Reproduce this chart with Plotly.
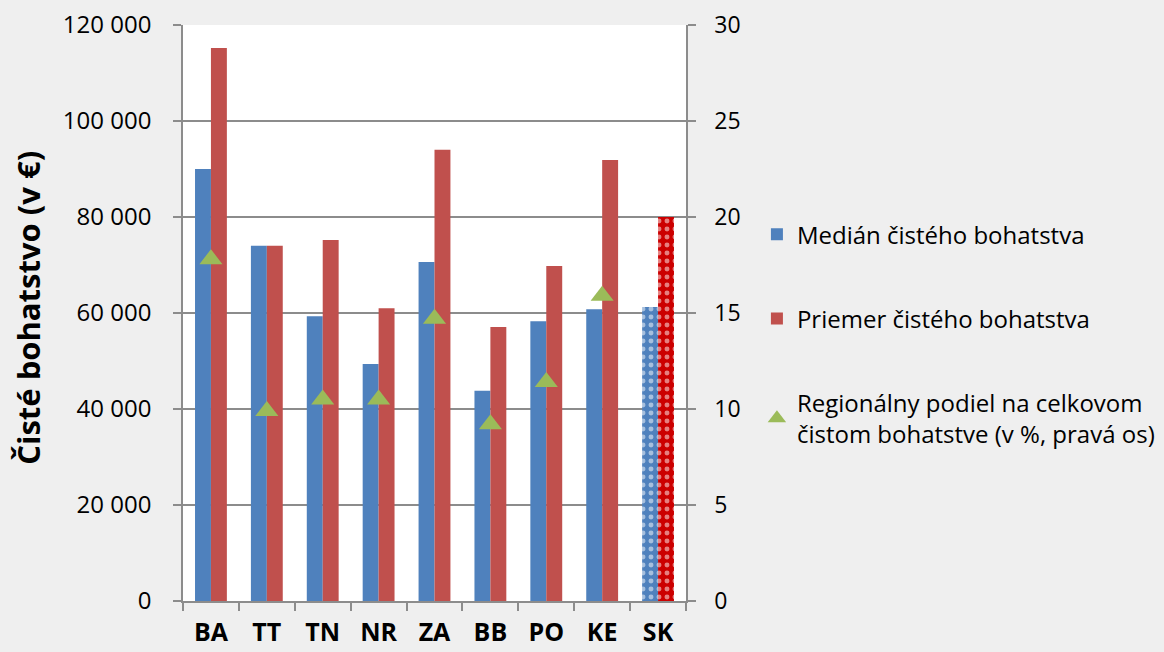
import plotly.graph_objects as go

regions = ["BA", "TT", "TN", "NR", "ZA", "BB", "PO", "KE"]
median = [90000, 74000, 59300, 49400, 70600, 43800, 58300, 60800]
mean = [115200, 74000, 75200, 61000, 94000, 57100, 69800, 91900]
share = [17.8, 9.9, 10.5, 10.5, 14.7, 9.2, 11.4, 15.9]
sk_label = ["SK"]
sk_median = [61250]
sk_mean = [80000]

categories = regions + sk_label

FONT = "Open Sans, sans-serif"
BLUE = "#4F81BD"
RED = "#C0504D"
SKRED = "#CC0000"
GREEN = "#9BBB59"
GRID = "#8C8C8C"
BG = "#EFEFEF"

fig = go.Figure()
fig.add_trace(go.Bar(x=regions, y=median, name="Medián čistého bohatstva",
                     marker=dict(color=BLUE, line=dict(width=0)),
                     offsetgroup="a", legendgroup="a"))
fig.add_trace(go.Bar(x=regions, y=mean, name="Priemer čistého bohatstva",
                     marker=dict(color=RED, line=dict(width=0)),
                     offsetgroup="b", legendgroup="b"))
fig.add_trace(go.Bar(x=sk_label, y=sk_median, showlegend=False,
                     marker=dict(color=BLUE, line=dict(width=0),
                                 pattern=dict(shape=".", fgcolor="white", bgcolor=BLUE,
                                              size=8, solidity=0.3)),
                     offsetgroup="a", legendgroup="a"))
fig.add_trace(go.Bar(x=sk_label, y=sk_mean, showlegend=False,
                     marker=dict(color=SKRED, line=dict(width=0),
                                 pattern=dict(shape=".", fgcolor="white", bgcolor=SKRED,
                                              size=8, solidity=0.3)),
                     offsetgroup="b", legendgroup="b"))
fig.add_trace(go.Scatter(x=regions, y=share, mode="markers", yaxis="y2",
                         name="Regionálny podiel na celkovom<br>čistom bohatstve (v %, pravá os)",
                         marker=dict(symbol="triangle-up", size=20, color=GREEN),
                         legendgroup="c"))

fig.update_layout(
    width=1164, height=652,
    margin=dict(l=183, r=478, t=25, b=51, autoexpand=False),
    paper_bgcolor=BG, plot_bgcolor="white",
    barmode="group", bargap=0.43, bargroupgap=0,
    font=dict(family=FONT, size=24, color="black"),
    showlegend=True,
    legend=dict(x=1.141, y=0.675, xanchor="left", yanchor="top",
                bgcolor="rgba(0,0,0,0)", font=dict(size=24),
                tracegroupgap=50, traceorder="grouped", itemwidth=30),
    xaxis=dict(categoryorder="array", categoryarray=categories,
               range=[-0.5, len(categories) - 0.5],
               showline=True, linecolor=GRID, linewidth=1.5,
               ticks="outside", tickson="boundaries", ticklen=8, tickcolor=GRID, tickwidth=1.5,
               tickfont=dict(size=25, family=FONT, weight="bold"),
               ticklabelstandoff=8, showgrid=False),
    yaxis=dict(range=[0, 120000], dtick=20000, tickformat=",d",
               showline=True, linecolor=GRID, linewidth=1.5,
               ticks="outside", ticklen=8, tickcolor=GRID, tickwidth=1.5,
               showgrid=True, gridcolor=GRID, gridwidth=1.5,
               zeroline=False, ticklabelstandoff=17,
               tickfont=dict(size=24)),
    yaxis2=dict(range=[0, 30], dtick=5, overlaying="y", side="right",
                showline=True, linecolor=GRID, linewidth=1.5,
                ticks="outside", ticklen=8, tickcolor=GRID, tickwidth=1.5,
                showgrid=False, zeroline=False, ticklabelstandoff=14,
                tickfont=dict(size=23)),
    separators=", ",
    annotations=[dict(text="Čisté bohatstvo (v €)", textangle=-90,
                      xref="paper", yref="paper", x=(28 - 183) / 503, y=0.509,
                      xanchor="center", yanchor="middle", showarrow=False,
                      font=dict(size=31, weight="bold", family=FONT))],
)

fig.write_html("out.html", config={"displayModeBar": False},
               post_script="document.body.style.margin='0';document.body.style.background='#EFEFEF';")
